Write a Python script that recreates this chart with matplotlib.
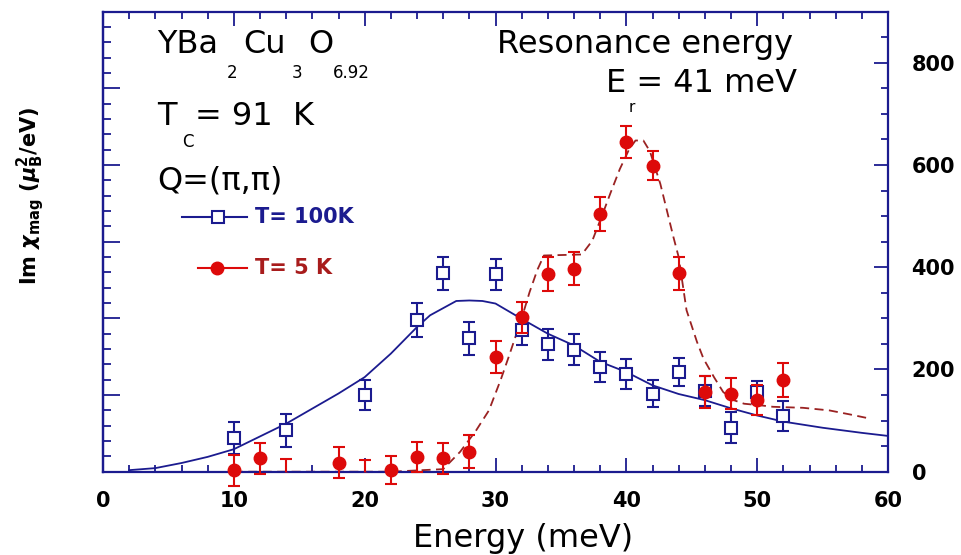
import numpy as np
import matplotlib.pyplot as plt
from matplotlib.lines import Line2D
from matplotlib.ticker import MultipleLocator

# -----------------------------
# Data
# -----------------------------
energy_100k = [10, 14, 20, 24, 26, 28, 30, 32, 34, 36, 38, 40, 42, 44, 46, 48, 50, 52]
chi_100k = [66, 81, 150, 297, 388, 261, 386, 277, 249, 239, 205, 191, 153, 195, 158, 86, 156, 109]
err_100k = [32, 32, 30, 33, 33, 32, 30, 30, 30, 31, 29, 30, 27, 27, 30, 30, 22, 30]

energy_5k = [10, 12, 14, 18, 20, 22, 24, 26, 28, 30, 32, 34, 36, 38, 40, 42, 44, 46, 48, 50, 52]
chi_5k = [3, 26, -15, 18, -15, 3, 29, 26, 39, 225, 302, 387, 397, 504, 645, 599, 388, 156, 153, 140, 179]
err_5k = [30, 30, 40, 30, 37, 28, 30, 30, 32, 31, 31, 33, 32, 33, 32, 28, 32, 31, 30, 30, 33]

fit_x_100k = [2, 4, 6, 8, 10, 14, 18, 20, 22, 24, 25, 27, 28, 29, 30, 32, 34, 36, 38, 40,
              42, 44, 46, 48, 50, 52, 55, 58, 60]
fit_y_100k = [3, 7, 17, 29, 44, 94, 153, 185, 231, 283, 306, 334, 335, 334, 329, 299, 270, 247, 215, 195,
              169, 152, 140, 124, 110, 98, 86, 76, 70]

fit_x_5k = [10, 14, 18, 22, 26, 27.3, 28.5, 29.5, 30.4, 31.0, 32.0, 32.6, 33.2, 33.7, 36.6, 37.4, 38.2,
            38.8, 39.5, 40.2, 40.7, 41.3, 41.8, 42.6, 43.1, 43.6, 44.0, 44.6, 45.4, 45.9, 46.7, 47.4,
            48.2, 49.0, 50.2, 51.2, 53.5, 55.5, 57.1, 58.6]
fit_y_5k = [0, 0, 0, 0, 5, 39, 80, 120, 180, 224, 300, 351, 395, 423, 425, 452, 505,
            546, 592, 630, 648, 648, 627, 563, 511, 459, 420, 316, 254, 221, 185, 156,
            140, 133, 130, 127, 125, 120, 112, 104]

NAVY = "#1b1b8f"
RED = "#dd0a0a"
DARKRED = "#9a2222"
TXTRED = "#a81c1c"

W, H = 961, 555


def fx(x):
    return x / W


def fy(y):
    return 1 - y / H


# -----------------------------
# Figure
# -----------------------------
fig = plt.figure(figsize=(W / 100, H / 100), dpi=100)
ax = fig.add_axes([103 / W, (H - 471.7) / H, 785 / W, 460 / H])
ax.set_xlim(0, 60)
ax.set_ylim(0, 900)

# fits
ax.plot(fit_x_100k, fit_y_100k, color=NAVY, lw=1.3, zorder=2)
ax.plot(fit_x_5k, fit_y_5k, color=DARKRED, lw=1.3, ls=(0, (5, 3)), zorder=2)

# T = 100 K data
ax.errorbar(energy_100k, chi_100k, yerr=err_100k, fmt="s", ms=8, mfc="white", mec=NAVY, mew=1.5,
            ecolor=NAVY, elinewidth=1.5, capsize=4, capthick=1.5, zorder=3, clip_on=False)

# T = 5 K data (points below zero are hidden by the axis)
e5 = np.array(energy_5k)
c5 = np.array(chi_5k)
r5 = np.array(err_5k)
vis = c5 >= 0
ax.errorbar(e5[vis], c5[vis], yerr=r5[vis], fmt="o", ms=9, mfc=RED, mec=RED,
            ecolor=RED, elinewidth=1.5, capsize=4, capthick=1.5, zorder=4, clip_on=False)
ax.errorbar(e5[~vis], c5[~vis], yerr=r5[~vis], fmt="o", ms=9, mfc=RED, mec=RED,
            ecolor=RED, elinewidth=1.5, capsize=4, capthick=1.5, zorder=4, clip_on=True)

# -----------------------------
# Axes styling
# -----------------------------
for s in ax.spines.values():
    s.set_color(NAVY)
    s.set_linewidth(1.6)

ax.xaxis.set_major_locator(MultipleLocator(10))
ax.xaxis.set_minor_locator(MultipleLocator(2))
ax.xaxis.set_ticks_position("both")
ax.yaxis.tick_right()
ax.yaxis.set_major_locator(MultipleLocator(200))
ax.yaxis.set_minor_locator(MultipleLocator(50))
ax.tick_params(which="both", direction="in", color=NAVY, width=1.3)
ax.tick_params(which="major", length=10)
ax.tick_params(which="minor", length=5)
ax.tick_params(axis="x", pad=14, labelsize=15)
ax.tick_params(axis="y", pad=17, labelsize=15)
for lab in ax.get_xticklabels() + ax.get_yticklabels():
    lab.set_fontweight("bold")

sec = ax.secondary_yaxis("left")
sec.yaxis.set_major_locator(MultipleLocator(150))
sec.yaxis.set_minor_locator(MultipleLocator(30))
sec.tick_params(which="both", direction="in", color=NAVY, width=1.3, labelleft=False)
sec.tick_params(which="major", length=12)
sec.tick_params(which="minor", length=6)
sec.spines["left"].set_color(NAVY)
sec.spines["left"].set_linewidth(1.6)

# labels
fig.text(fx(523), fy(547), "Energy (meV)", ha="center", va="baseline", fontsize=23)
fig.text(fx(30), fy(196), r"Im $\boldsymbol{\chi}_{\mathbf{mag}}$ ($\boldsymbol{\mu}_{\mathbf{B}}^{\mathbf{2}}$/eV)",
         rotation=90, ha="center", va="center", fontsize=15, fontweight="bold")

# -----------------------------
# Annotations
# -----------------------------
big = 23
small = 12
fig.text(fx(157), fy(53), "YBa", fontsize=big, va="baseline")
fig.text(fx(227), fy(78), "2", fontsize=small, va="baseline")
fig.text(fx(243), fy(53), "Cu", fontsize=big, va="baseline")
fig.text(fx(292), fy(78), "3", fontsize=small, va="baseline")
fig.text(fx(308), fy(53), "O", fontsize=big, va="baseline")
fig.text(fx(333), fy(78), "6.92", fontsize=small, va="baseline")

fig.text(fx(157), fy(125), "T", fontsize=big, va="baseline")
fig.text(fx(182), fy(147), "C", fontsize=small, va="baseline")
fig.text(fx(195), fy(125), "= 91  K", fontsize=big, va="baseline")

fig.text(fx(157), fy(189), "Q=(\u03c0,\u03c0)", fontsize=big, va="baseline")

fig.text(fx(793), fy(53), "Resonance energy", fontsize=big, ha="right", va="baseline")
fig.text(fx(797), fy(92), "E = 41 meV", fontsize=big, ha="right", va="baseline")
fig.text(fx(629), fy(112), "r", fontsize=11, va="baseline")

# hand-made legend
fig.add_artist(Line2D([fx(182), fx(247)], [fy(217)] * 2, color=NAVY, lw=1.5))
fig.add_artist(Line2D([fx(218)], [fy(217)], marker="s", ms=8, mfc="white", mec=NAVY, mew=1.5))
fig.text(fx(255), fy(217), "T= 100K", fontsize=15, fontweight="bold", color=NAVY, va="center")

fig.add_artist(Line2D([fx(198), fx(247)], [fy(268)] * 2, color=RED, lw=1.5))
fig.add_artist(Line2D([fx(217)], [fy(268)], marker="o", ms=9, mfc=RED, mec=RED))
fig.text(fx(255), fy(268), "T= 5 K", fontsize=15, fontweight="bold", color=TXTRED, va="center")

plt.savefig("out.png", dpi=100)
plt.close(fig)
